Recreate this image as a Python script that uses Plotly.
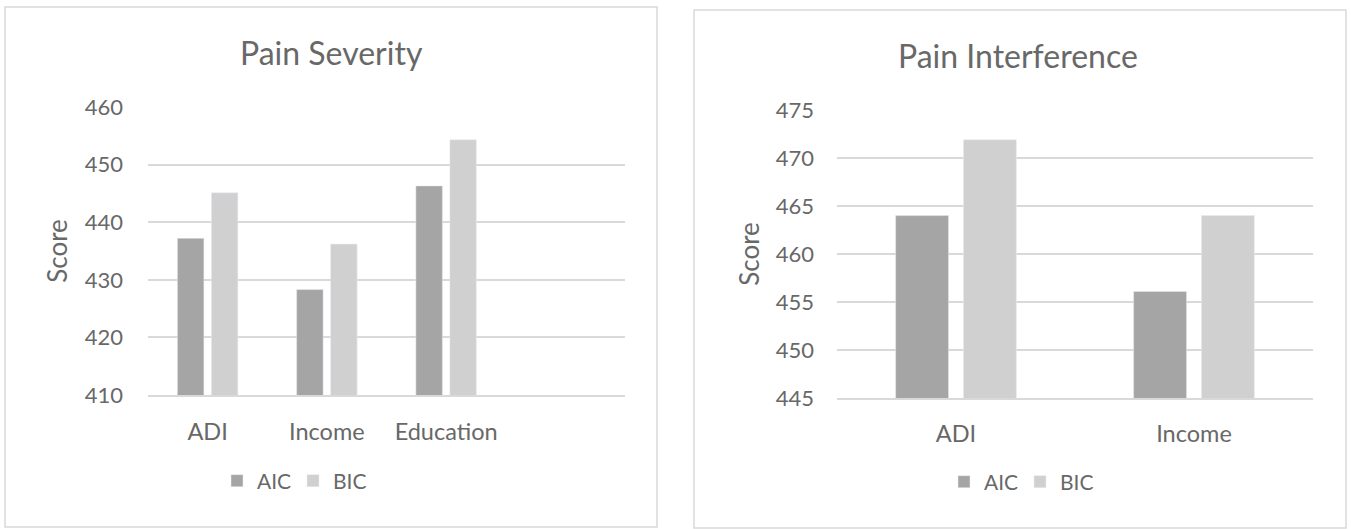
import plotly.graph_objects as go

# ---- data ----
sev_categories = ["ADI", "Income", "Education"]
sev_aic = [437.2, 428.3, 446.3]
sev_bic = [445.1, 436.2, 454.3]

int_categories = ["ADI", "Income"]
int_aic = [464.0, 456.1]
int_bic = [471.9, 464.0]

sev_ticks = [410, 420, 430, 440, 450, 460]
int_ticks = [445, 450, 455, 460, 465, 470, 475]

# ---- style ----
W, H = 1351, 529
FONT = "Lato"
TXT = "#686868"
GRID = "#d9d9d9"
C_AIC = "#a5a5a5"
C_BIC = "#d0d0d0"

def px(x):
    return x / W

def py(y):
    return 1 - y / H

fig = go.Figure()

fig.add_trace(go.Bar(x=sev_categories, y=sev_aic, name="AIC", marker_color=C_AIC,
                     xaxis="x", yaxis="y", legend="legend"))
fig.add_trace(go.Bar(x=sev_categories, y=sev_bic, name="BIC", marker_color=C_BIC,
                     xaxis="x", yaxis="y", legend="legend"))
fig.add_trace(go.Bar(x=int_categories, y=int_aic, name="AIC", marker_color=C_AIC,
                     xaxis="x2", yaxis="y2", legend="legend2"))
fig.add_trace(go.Bar(x=int_categories, y=int_bic, name="BIC", marker_color=C_BIC,
                     xaxis="x2", yaxis="y2", legend="legend2"))

tick_font = dict(family=FONT, size=22, color=TXT)
cat_font = dict(family=FONT, size=23.5, color=TXT)
ttl_font = dict(family=FONT, size=26, color=TXT)
leg_font = dict(family=FONT, size=21, color=TXT)

fig.update_layout(
    width=W, height=H,
    margin=dict(l=0, r=0, t=0, b=0, autoexpand=False),
    paper_bgcolor="white", plot_bgcolor="white",
    font=dict(family=FONT, color=TXT),
    barmode="group", bargap=0.43, bargroupgap=0.22,
    xaxis=dict(domain=[px(148), px(625)], anchor="y", type="category",
               range=[-0.5, 3.5], showgrid=False, zeroline=False,
               showline=True, linecolor=GRID, linewidth=1.5,
               ticks="", tickfont=cat_font, ticklabelstandoff=15),
    yaxis=dict(domain=[py(395), py(107)], anchor="x", range=[410, 460],
               tickvals=sev_ticks, showgrid=True, gridcolor=GRID, gridwidth=1.5,
               zeroline=False, showline=False, ticks="",
               tickfont=tick_font, ticklabelstandoff=24,
               title=dict(text="Score", font=ttl_font, standoff=9)),
    xaxis2=dict(domain=[px(837), px(1313)], anchor="y2", type="category",
                range=[-0.5, 1.5], showgrid=False, zeroline=False,
                showline=True, linecolor=GRID, linewidth=1.5,
                ticks="", tickfont=cat_font, ticklabelstandoff=14),
    yaxis2=dict(domain=[py(398), py(110)], anchor="x2", range=[445, 475],
                tickvals=int_ticks, showgrid=True, gridcolor=GRID, gridwidth=1.5,
                zeroline=False, showline=False, ticks="",
                tickfont=tick_font, ticklabelstandoff=22,
                title=dict(text="Score", font=ttl_font, standoff=8)),
    legend=dict(orientation="h", x=px(293), xanchor="center", y=py(481), yanchor="middle",
                font=leg_font, bgcolor="rgba(0,0,0,0)", entrywidth=31,
                itemclick=False, itemdoubleclick=False),
    legend2=dict(orientation="h", x=px(1020), xanchor="center", y=py(482), yanchor="middle",
                 font=leg_font, bgcolor="rgba(0,0,0,0)", entrywidth=31,
                 itemclick=False, itemdoubleclick=False),
    shapes=[
        dict(type="rect", xref="paper", yref="paper", x0=px(5), x1=px(657),
             y0=py(527), y1=py(7), line=dict(color=GRID, width=1.5), layer="below"),
        dict(type="rect", xref="paper", yref="paper", x0=px(694), x1=px(1346),
             y0=py(528), y1=py(10), line=dict(color=GRID, width=1.5), layer="below"),
    ],
    annotations=[
        dict(text="Pain Severity", xref="paper", yref="paper", x=px(331), y=py(52),
             xanchor="center", yanchor="middle", showarrow=False,
             font=dict(family=FONT, size=32, color=TXT)),
        dict(text="Pain Interference", xref="paper", yref="paper", x=px(1018), y=py(55),
             xanchor="center", yanchor="middle", showarrow=False,
             font=dict(family=FONT, size=32, color=TXT)),
    ],
)

fig.write_html("out.html")
